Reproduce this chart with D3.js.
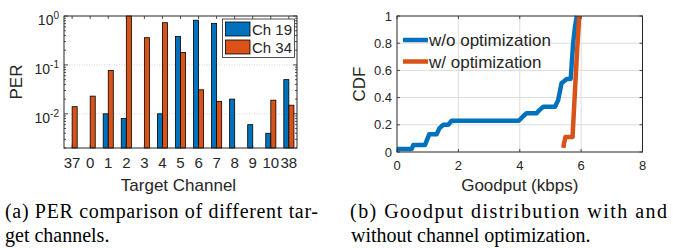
<!DOCTYPE html>
<html>
<head>
<meta charset="utf-8">
<script src="https://cdn.jsdelivr.net/npm/d3@7"></script>
<style>
body{margin:0;background:#fff;}
svg text{font-family:"Liberation Sans",Arial,sans-serif;fill:#262626;}
</style>
</head>
<body>
<svg id="fig" width="673" height="248"></svg>
<script>
// (a) PER per target channel
var channels = ['37','0','1','2','3','4','5','6','7','8','9','10','38'];
var per19 = [0, 0, 0.010, 0.008, 0, 0.010, 0.38, 0.82, 0.70, 0.020, 0.006, 0.004, 0.050];
var per34 = [0.014, 0.023, 0.077, 1.0, 0.36, 0.73, 0.18, 0.031, 0.018, 0, 0, 0.019, 0.015];
var perTicks = [0.01, 0.1, 1];
var perTickLabels = [['10','-2'],['10','-1'],['10','0']];

// (b) goodput CDF
var woX = [0, 0.48, 0.53, 0.91, 1.05, 1.29, 1.38, 1.51, 1.67, 1.78, 3.97, 4.1, 4.22, 4.55, 4.65, 4.77, 5.15, 5.25, 5.36, 5.53, 5.66, 5.74, 5.8, 5.86];
var woY = [0.022, 0.022, 0.051, 0.051, 0.13, 0.13, 0.174, 0.2, 0.2, 0.23, 0.23, 0.26, 0.285, 0.285, 0.31, 0.333, 0.333, 0.38, 0.505, 0.537, 0.537, 0.8, 0.92, 1.0];
var wX = [5.42, 5.44, 5.49, 5.72, 5.87, 5.94];
var wY = [0.03, 0.06, 0.11, 0.11, 0.75, 1.0];
var gpTicks = [0, 2, 4, 6, 8];
var cdfTicks = [0, 0.2, 0.4, 0.6, 0.8, 1];

var blue = '#0072BD', orange = '#D95319', axCol = '#262626';
var svg = d3.select('#fig');

//---------- left chart ----------
var L = {l:64, r:297, t:16, b:148};
var x1 = d3.scaleLinear().domain([-0.45, channels.length - 0.55]).range([L.l, L.r]);
var y1 = d3.scaleLog().domain([0.002, 1]).range([L.b, L.t]).clamp(true);
var g1 = svg.append('g');

// dotted grid at major decades
g1.selectAll('line.grid').data([0.01, 0.1]).enter().append('line')
  .attr('x1', L.l).attr('x2', L.r)
  .attr('y1', function(d){return y1(d);}).attr('y2', function(d){return y1(d);})
  .attr('stroke', '#c8c8c8').attr('stroke-width', 0.8).attr('stroke-dasharray', '1,1.5');

var bw = 0.28;
g1.selectAll('rect.b19').data(per19).enter().append('rect')
  .attr('x', function(d, i){return x1(i - bw);})
  .attr('width', x1(bw) - x1(0))
  .attr('y', function(d){return d > 0 ? y1(d) : L.b;})
  .attr('height', function(d){return d > 0 ? L.b - y1(d) : 0;})
  .attr('fill', blue).attr('stroke', '#000').attr('stroke-width', 0.8);
g1.selectAll('rect.b34').data(per34).enter().append('rect')
  .attr('x', function(d, i){return x1(i);})
  .attr('width', x1(bw) - x1(0))
  .attr('y', function(d){return d > 0 ? y1(d) : L.b;})
  .attr('height', function(d){return d > 0 ? L.b - y1(d) : 0;})
  .attr('fill', orange).attr('stroke', '#000').attr('stroke-width', 0.8);

// box
g1.append('rect').attr('x', L.l).attr('y', L.t).attr('width', L.r - L.l).attr('height', L.b - L.t)
  .attr('fill', 'none').attr('stroke', axCol).attr('stroke-width', 1);

// log ticks, major + minor, inward both sides
var minor = [];
[0.001, 0.01, 0.1].forEach(function(dec){
  for (var k = 2; k <= 9; k++) { var v = dec * k; if (v >= 0.002 && v < 1) minor.push(v); }
});
function yTicks(vals, len){
  vals.forEach(function(v){
    var yy = y1(v);
    g1.append('line').attr('x1', L.l).attr('x2', L.l + len).attr('y1', yy).attr('y2', yy).attr('stroke', axCol).attr('stroke-width', 0.8);
    g1.append('line').attr('x1', L.r).attr('x2', L.r - len).attr('y1', yy).attr('y2', yy).attr('stroke', axCol).attr('stroke-width', 0.8);
  });
}
yTicks(perTicks, 4);
yTicks(minor, 2);
channels.forEach(function(c, i){
  g1.append('line').attr('x1', x1(i)).attr('x2', x1(i)).attr('y1', L.b).attr('y2', L.b - 3).attr('stroke', axCol).attr('stroke-width', 0.8);
  g1.append('line').attr('x1', x1(i)).attr('x2', x1(i)).attr('y1', L.t).attr('y2', L.t + 3).attr('stroke', axCol).attr('stroke-width', 0.8);
});

// tick labels
g1.selectAll('text.xl').data(channels).enter().append('text')
  .attr('x', function(d, i){return x1(i);}).attr('y', 168)
  .attr('text-anchor', 'middle').attr('font-size', 15).text(function(d){return d;});
perTicks.forEach(function(v, i){
  var t = g1.append('text').attr('x', 59).attr('y', y1(v) + 9).attr('text-anchor', 'end').attr('font-size', 14);
  t.append('tspan').text(perTickLabels[i][0]);
  t.append('tspan').attr('dy', -6).attr('font-size', 10).text(perTickLabels[i][1]);
});
g1.append('text').attr('x', (L.l + L.r) / 2 - 2).attr('y', 191).attr('text-anchor', 'middle').attr('font-size', 17).text('Target Channel');
g1.append('text').attr('transform', 'translate(22,' + ((L.t + L.b) / 2) + ') rotate(-90)')
  .attr('text-anchor', 'middle').attr('font-size', 17).text('PER');

// legend
var lg = g1.append('g');
lg.append('rect').attr('x', 222.5).attr('y', 19).attr('width', 72).attr('height', 38.5)
  .attr('fill', '#fff').attr('stroke', axCol).attr('stroke-width', 0.8);
[['Ch 19', blue], ['Ch 34', orange]].forEach(function(e, i){
  lg.append('rect').attr('x', 225.5).attr('y', 22 + i * 18).attr('width', 24.5).attr('height', 14)
    .attr('fill', e[1]).attr('stroke', '#000').attr('stroke-width', 0.8);
  lg.append('text').attr('x', 252).attr('y', 35 + i * 18).attr('font-size', 15).text(e[0]);
});

//---------- right chart ----------
var R = {l:397, r:642.5, t:16, b:152};
var x2 = d3.scaleLinear().domain([0, 8]).range([R.l, R.r]);
var y2 = d3.scaleLinear().domain([0, 1]).range([R.b, R.t]);
var g2 = svg.append('g');

g2.append('clipPath').attr('id', 'clip2').append('rect')
  .attr('x', R.l).attr('y', R.t - 2).attr('width', R.r - R.l).attr('height', R.b - R.t + 4);

gpTicks.slice(1, -1).forEach(function(v){
  g2.append('line').attr('x1', x2(v)).attr('x2', x2(v)).attr('y1', R.t).attr('y2', R.b).attr('stroke', '#dcdcdc').attr('stroke-width', 1);
});
cdfTicks.slice(1, -1).forEach(function(v){
  g2.append('line').attr('x1', R.l).attr('x2', R.r).attr('y1', y2(v)).attr('y2', y2(v)).attr('stroke', '#dcdcdc').attr('stroke-width', 1);
});

var line = d3.line().x(function(d){return x2(d[0]);}).y(function(d){return y2(d[1]);});
var woPts = woX.map(function(v, i){return [v, woY[i]];});
var wPts = wX.map(function(v, i){return [v, wY[i]];});
g2.append('path').datum(woPts).attr('d', line).attr('clip-path', 'url(#clip2)')
  .attr('fill', 'none').attr('stroke', blue).attr('stroke-width', 4.5).attr('stroke-linejoin', 'round');
g2.append('path').datum(wPts).attr('d', line).attr('clip-path', 'url(#clip2)')
  .attr('fill', 'none').attr('stroke', orange).attr('stroke-width', 4.5).attr('stroke-linejoin', 'round');

g2.append('rect').attr('x', R.l).attr('y', R.t).attr('width', R.r - R.l).attr('height', R.b - R.t)
  .attr('fill', 'none').attr('stroke', axCol).attr('stroke-width', 1);
gpTicks.forEach(function(v){
  g2.append('line').attr('x1', x2(v)).attr('x2', x2(v)).attr('y1', R.b).attr('y2', R.b - 3).attr('stroke', axCol).attr('stroke-width', 0.8);
  g2.append('line').attr('x1', x2(v)).attr('x2', x2(v)).attr('y1', R.t).attr('y2', R.t + 3).attr('stroke', axCol).attr('stroke-width', 0.8);
  g2.append('text').attr('x', x2(v)).attr('y', 170).attr('text-anchor', 'middle').attr('font-size', 13).text(v);
});
cdfTicks.forEach(function(v){
  g2.append('line').attr('x1', R.l).attr('x2', R.l + 3).attr('y1', y2(v)).attr('y2', y2(v)).attr('stroke', axCol).attr('stroke-width', 0.8);
  g2.append('line').attr('x1', R.r).attr('x2', R.r - 3).attr('y1', y2(v)).attr('y2', y2(v)).attr('stroke', axCol).attr('stroke-width', 0.8);
  g2.append('text').attr('x', 392).attr('y', y2(v) + 4.5).attr('text-anchor', 'end').attr('font-size', 13).text(v);
});
g2.append('text').attr('x', (R.l + R.r) / 2).attr('y', 191).attr('text-anchor', 'middle').attr('font-size', 17).text('Goodput (kbps)');
g2.append('text').attr('transform', 'translate(365,' + ((R.t + R.b) / 2) + ') rotate(-90)')
  .attr('text-anchor', 'middle').attr('font-size', 17).text('CDF');

[['w/o optimization', blue, 40], ['w/ optimization', orange, 61.5]].forEach(function(e){
  g2.append('line').attr('x1', 403).attr('x2', 428).attr('y1', e[2]).attr('y2', e[2]).attr('stroke', e[1]).attr('stroke-width', 4.5);
  g2.append('text').attr('x', 429).attr('y', e[2] + 6).attr('font-size', 17).text(e[0]);
});

//---------- captions ----------
var cap = svg.append('g').attr('font-family', '"Liberation Serif","Times New Roman",serif');
function capLine(x, y, txt, len){
  var t = cap.append('text').attr('x', x).attr('y', y).attr('font-size', 20)
    .style('font-family', '"Liberation Serif","Times New Roman",serif').style('fill', '#000').text(txt);
  if (len) t.attr('textLength', len).attr('lengthAdjust', 'spacing');
}
capLine(5, 218, '(a) PER comparison of different tar-', 313);
capLine(5, 242, 'get channels.');
capLine(350, 218, '(b) Goodput distribution with and', 317);
capLine(351, 242, 'without channel optimization.');
</script>
</body>
</html>
